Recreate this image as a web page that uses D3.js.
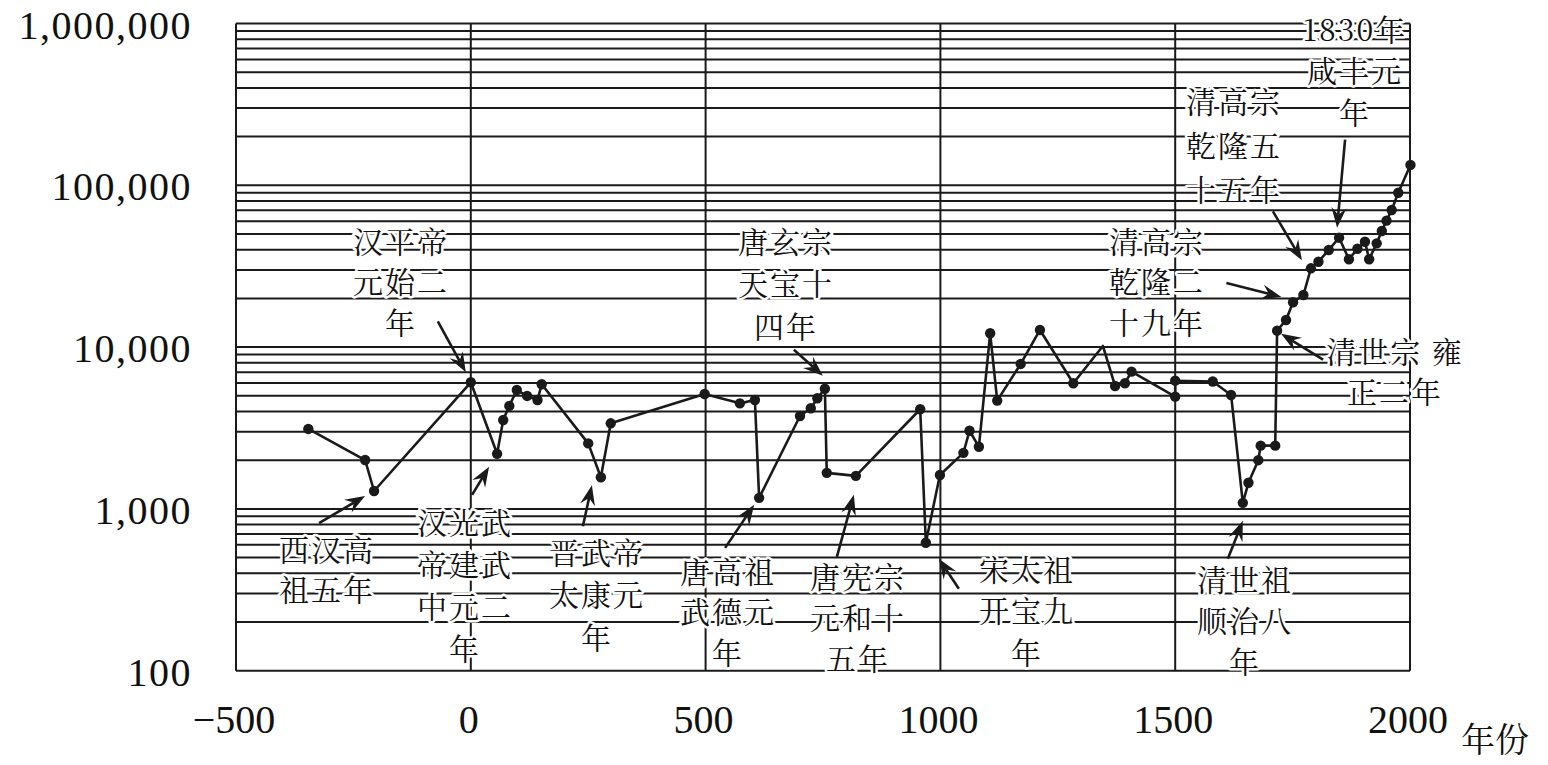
<!DOCTYPE html>
<html>
<head>
<meta charset="utf-8">
<script src="https://cdn.jsdelivr.net/npm/d3@7"></script>
<style>
  html, body { margin: 0; padding: 0; background: #fff; }
  .num { font-family: "Liberation Serif", "DejaVu Serif", serif; fill: #111; }
  .cjk { font-family: "Noto Serif CJK SC", "Noto Sans CJK SC", sans-serif; fill: #111; }
</style>
</head>
<body>
<svg id="chart" width="1548" height="765"></svg>
<script>

// Data

var years = [-346, -225, -206, 0, 56, 69, 82, 98, 120, 142, 151, 250, 277, 298,
  498, 573, 605, 614, 701, 724, 738, 754, 758, 820, 957, 969, 999,
  1049, 1062, 1082, 1106, 1121, 1171, 1212, 1283, 1346, 1372, 1393, 1407,
  1500, 1500, 1580, 1619, 1644, 1656, 1677, 1682, 1713, 1717, 1736,
  1751, 1773, 1789, 1805, 1827, 1849, 1870, 1888, 1904, 1913, 1929,
  1940, 1950, 1961, 1975, 2001];

var values = [3120, 2005, 1290, 6060, 2190, 3540, 4330, 5430, 4990, 4710, 5890, 2540, 1570, 3380,
  5130, 4490, 4710, 1170, 3750, 4190, 4830, 5530, 1670, 1600, 4130, 618, 1620,
  2220, 3040, 2420, 12170, 4670, 7870, 12760, 5980, 10160, 5750, 5980, 7050,
  4940, 6200, 6130, 5060, 1090, 1450, 2000, 2460, 2460, 12630, 14710,
  18920, 20990, 30690, 33710, 39840, 47450, 34890, 40560, 44800, 34890, 43780,
  52220, 60460, 70360, 90000, 133600];

// vertices drawn without a dot
var noDot = [1346];

var xTicks = [-500, 0, 500, 1000, 1500, 2000];
var xTickLabels = ["\u2212500", "0", "500", "1000", "1500", "2000"];
var yTicks = [100, 1000, 10000, 100000, 1000000];
var yTickLabels = ["100", "1,000", "10,000", "100,000", "1,000,000"];
var xTitle = "年份";

// annotation texts and the point (index into the series) each one points at
var annoLines = [
  ["汉平帝", "元始二", "年"],
  ["西汉高", "祖五年"],
  ["汉光武", "帝建武", "中元二", "年"],
  ["晋武帝", "太康元", "年"],
  ["唐高祖", "武德元", "年"],
  ["唐玄宗", "天宝十", "四年"],
  ["唐宪宗", "元和十", "五年"],
  ["宋太祖", "开宝九", "年"],
  ["清世祖", "顺治八", "年"],
  ["清世宗 雍", "正二年"],
  ["清高宗", "乾隆二", "十九年"],
  ["清高宗", "乾隆五", "十五年"],
  ["1830年", "咸丰元", "年"]
];
var annoTarget = [3, 2, 4, 12, 17, 21, 23, 25, 43, 48, 51, 52, 55];

// Layout

var W = 1548, H = 765,
    pLeft = 236, pRight = 1410, pTop = 23.5, pBottom = 670.7;

// text block (centre x, first line y, line step) and arrow tail/tip offsets from the point
var annoLayout = [
  { tx: 401,  ty: 242, step: 40.5, tail: [-33, -61], tip: [-5, -10] },
  { tx: 327,  ty: 550, step: 40,   tail: [-55, 32],  tip: [-9, 5] },
  { tx: 465,  ty: 523, step: 42,   tail: [-25, 41],  tip: [-8, 13] },
  { tx: 597,  ty: 553, step: 42.5, tail: [-18, 49],  tip: [-9, 8] },
  { tx: 728,  ty: 572, step: 40.5, tail: [-34, 50],  tip: [-5, 7] },
  { tx: 786,  ty: 242, step: 42.5, tail: [-31, -39], tip: [-2, -13] },
  { tx: 858,  ty: 577, step: 41,   tail: [-19, 81],  tip: [-2, 19] },
  { tx: 1027, ty: 570, step: 41.5, tail: [33, 46],   tip: [13, 16] },
  { tx: 1245, ty: 580, step: 41,   tail: [-15, 56],  tip: [0, 18] },
  { tx: 1395, ty: 352, step: 40,   tail: [46, 29],   tip: [4, 3] },
  { tx: 1157, ty: 242, step: 40.5, tail: [-77, -12], tip: [-22, 2] },
  { tx: 1234, ty: 102, step: 44,   tail: [-38, -57], tip: [-9, -8] },
  { tx: 1355, ty: 30,  step: 41.5, tail: [6, -98],   tip: [-2, -10] }
];

var svg = d3.select("#chart");

var x = d3.scaleLinear().domain([-500, 2000]).range([pLeft, pRight]);
var y = d3.scaleLog().domain([100, 1000000]).range([pBottom, pTop]);

// Grid

var yGrid = [];
[100, 1000, 10000, 100000].forEach(function(d) {
  for (var m = 1; m < 10; m++) yGrid.push(d * m);
});
yGrid.push(1000000);

var grid = svg.append("g")
  .attr("stroke", "#1a1a1a")
  .attr("stroke-width", 2);

grid.selectAll(".hg")
  .data(yGrid)
  .enter()
  .append("line")
  .attr("class", "hg")
  .attr("x1", pLeft)
  .attr("x2", pRight)
  .attr("y1", function(d) { return y(d); })
  .attr("y2", function(d) { return y(d); });

grid.selectAll(".vg")
  .data(xTicks)
  .enter()
  .append("line")
  .attr("class", "vg")
  .attr("x1", function(d) { return x(d); })
  .attr("x2", function(d) { return x(d); })
  .attr("y1", pTop)
  .attr("y2", pBottom);

// Tick labels

svg.selectAll(".ylab")
  .data(yTicks)
  .enter()
  .append("text")
  .attr("class", "ylab num")
  .attr("x", 192)
  .attr("y", function(d) { return y(d) + 15; })
  .attr("text-anchor", "end")
  .style("font-size", "40px")
  .style("letter-spacing", "1.5px")
  .text(function(d, i) { return yTickLabels[i]; });

svg.selectAll(".xlab")
  .data(xTicks)
  .enter()
  .append("text")
  .attr("class", "xlab num")
  .attr("x", function(d) { return x(d) - 2; })
  .attr("y", 733)
  .attr("text-anchor", "middle")
  .style("font-size", "40px")
  .text(function(d, i) { return xTickLabels[i]; });

svg.append("text")
  .attr("class", "cjk")
  .attr("x", 1495)
  .attr("y", 752)
  .attr("text-anchor", "middle")
  .style("font-size", "34px")
  .text(xTitle);

// Series

var pts = years.map(function(d, i) { return [d, values[i]]; });

svg.append("path")
  .datum(pts)
  .attr("fill", "none")
  .attr("stroke", "#1a1a1a")
  .attr("stroke-width", 2.6)
  .attr("stroke-linejoin", "round")
  .attr("d", d3.line()
    .x(function(d) { return x(d[0]); })
    .y(function(d) { return y(d[1]); }));

svg.selectAll(".dot")
  .data(pts.filter(function(d) { return noDot.indexOf(d[0]) < 0; }))
  .enter()
  .append("circle")
  .attr("class", "dot")
  .attr("cx", function(d) { return x(d[0]); })
  .attr("cy", function(d) { return y(d[1]); })
  .attr("r", 5.2)
  .attr("fill", "#1a1a1a");

// Annotations

var anno = svg.selectAll(".anno")
  .data(annoLines)
  .enter()
  .append("g")
  .attr("class", "anno");

anno.each(function(lines, i) {
  var g = d3.select(this),
      L = annoLayout[i],
      px = x(years[annoTarget[i]]),
      py = y(values[annoTarget[i]]);

  g.selectAll("text")
    .data(lines)
    .enter()
    .append("text")
    .attr("class", "cjk")
    .attr("x", L.tx)
    .attr("y", function(d, j) { return L.ty + j * L.step; })
    .attr("dy", "0.36em")
    .attr("text-anchor", "middle")
    .style("font-size", "30px")
    .style("letter-spacing", "2px")
    .style("paint-order", "stroke")
    .attr("stroke", "#fff")
    .attr("stroke-width", 5)
    .attr("stroke-linejoin", "round")
    .text(function(d) { return d; });

  var x0 = px + L.tail[0], y0 = py + L.tail[1],
      x1 = px + L.tip[0],  y1 = py + L.tip[1],
      a = Math.atan2(y1 - y0, x1 - x0),
      len = 20, w = 7.5, notch = 13;

  function pt(along, across) {
    return [x1 - along * Math.cos(a) - across * Math.sin(a),
            y1 - along * Math.sin(a) + across * Math.cos(a)];
  }

  g.append("line")
    .attr("x1", x0).attr("y1", y0)
    .attr("x2", pt(notch, 0)[0]).attr("y2", pt(notch, 0)[1])
    .attr("stroke", "#1a1a1a")
    .attr("stroke-width", 2.6);

  g.append("path")
    .attr("d", "M" + [pt(0, 0), pt(len, -w), pt(notch, 0), pt(len, w)].join("L") + "Z")
    .attr("fill", "#1a1a1a");
});

</script>
</body>
</html>
